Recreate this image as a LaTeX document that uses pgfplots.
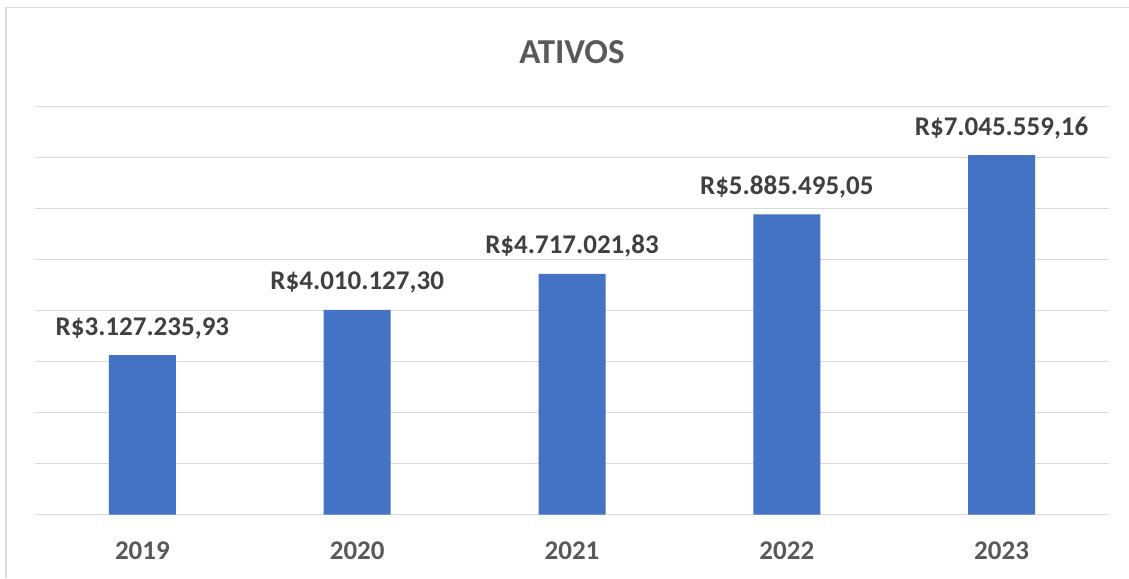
\documentclass[border=0pt]{standalone}
\usepackage{pgfplots}
\pgfplotsset{compat=1.18}
\usepackage{fontspec}
\setmainfont{Carlito}
\definecolor{barblue}{HTML}{4472C4}
\definecolor{gridgray}{HTML}{D9D9D9}
\definecolor{txtgray}{HTML}{595959}
\definecolor{lblgray}{HTML}{404040}
\begin{document}
\begin{tikzpicture}[x=1pt,y=1pt]
\useasboundingbox (0,0) rectangle (1129,578);
\draw[gridgray, line width=1.8pt] (6,0) -- (6,570.5) -- (1129,570.5);
\begin{axis}[
  at={(35pt,63.5pt)}, anchor=south west,
  scale only axis, width=1074pt, height=408pt,
  xmin=-0.5, xmax=4.5, ymin=0, ymax=8000000,
  ybar, bar width=67pt,
  axis line style={draw=none},
  /pgf/number format/assume math mode=true,
  scaled y ticks=false,
  xtick=data, xticklabels={2019,2020,2021,2022,2023},
  major tick length=0pt,
  ytick={0,1000000,...,8000000}, yticklabels={},
  ymajorgrids, grid style={gridgray, line width=1.3pt},
  xticklabel style={font=\fontsize{27}{27}\selectfont\bfseries, text=txtgray, anchor=base, yshift=-45pt, inner sep=0pt},
  nodes near coords style={font=\fontsize{27}{27}\selectfont\bfseries, text=lblgray, anchor=base, yshift=20pt, inner sep=0pt},
  point meta=explicit,
  title={ATIVOS},
  title style={font=\fontsize{35}{35}\selectfont\bfseries, text=txtgray, at={(0.5,1)}, anchor=base, yshift=37pt},
]
\addplot[fill=barblue, draw=none, nodes near coords={R\$\pgfmathprintnumber[fixed, fixed zerofill, precision=2, use comma, 1000 sep={.}, assume math mode=true]{\pgfplotspointmeta}}] coordinates {
  (0,3127235.93) [3127235.93]
  (1,4010127.30) [4010127.30]
  (2,4717021.83) [4717021.83]
  (3,5885495.05) [5885495.05]
  (4,7045559.16) [7045559.16]
};
\end{axis}
\end{tikzpicture}
\end{document}
